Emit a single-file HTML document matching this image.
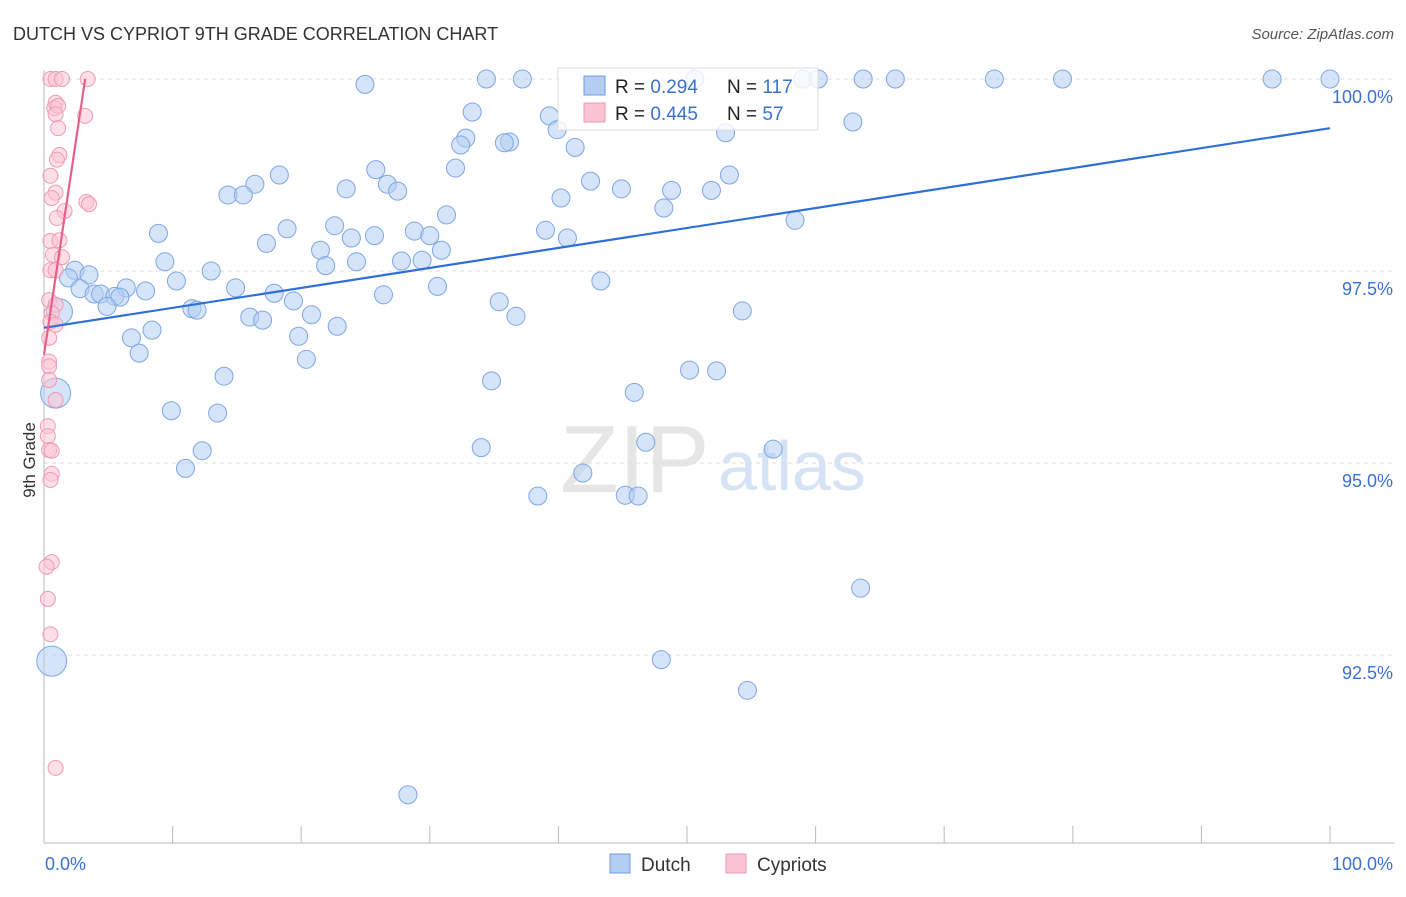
<!DOCTYPE html>
<html><head><meta charset="utf-8"><style>
body{margin:0;background:#fff;font-family:"Liberation Sans",sans-serif;}
svg text{font-family:"Liberation Sans",sans-serif;}
</style></head><body>
<svg id="c" width="1406" height="892">
<text x="13" y="40" font-size="18" fill="#333">DUTCH VS CYPRIOT 9TH GRADE CORRELATION CHART</text>
<text x="1394" y="39" font-size="15" fill="#555" font-style="italic" text-anchor="end">Source: ZipAtlas.com</text>
<text x="35" y="460" font-size="17" fill="#333" transform="rotate(-90 35 460)" text-anchor="middle">9th Grade</text>
<text x="560" y="492" font-size="96" fill="#e6e6e6" font-family="Liberation Serif">ZIP</text>
<text x="718" y="490" font-size="70" fill="#d6e3f5">atlas</text>
<g id="grid"></g><g id="pts"></g><g id="lines"></g>
<g>
<rect x="558" y="68" width="260" height="62" fill="#fff" fill-opacity="0.8" stroke="#ddd"/>
<rect x="584" y="76" width="21" height="19" fill="#b3cdf3" stroke="#6f9de0"/>
<rect x="584" y="103" width="21" height="19" fill="#fbc4d3" stroke="#ee9ab3"/>
<text x="615" y="93" font-size="19" fill="#222">R = <tspan fill="#3a72d0">0.294</tspan></text>
<text x="727" y="93" font-size="19" fill="#222">N = <tspan fill="#3a72d0">117</tspan></text>
<text x="615" y="120" font-size="19" fill="#222">R = <tspan fill="#3a72d0">0.445</tspan></text>
<text x="727" y="120" font-size="19" fill="#222">N = <tspan fill="#3a72d0"> 57</tspan></text>
</g>
<g>
<rect x="610" y="854" width="20" height="19" fill="#b3cdf3" stroke="#6f9de0"/>
<text x="641" y="871" font-size="19" fill="#333">Dutch</text>
<rect x="726" y="854" width="20" height="19" fill="#fbc4d3" stroke="#ee9ab3"/>
<text x="757" y="871" font-size="19" fill="#333">Cypriots</text>
</g>
</svg>
<script>
const dutchX=[24.96,34.4,37.2,50.6,59.0,60.2,63.7,66.2,73.9,79.2,95.5,100,33.3,39.3,39.9,62.9,32.8,32.4,36.2,35.8,41.3,53.0,32.0,25.8,18.3,16.4,26.7,27.5,23.5,14.3,15.5,42.5,44.9,48.8,51.9,53.3,40.2,48.2,31.3,58.4,8.9,18.9,22.6,28.8,39.0,17.3,23.9,25.7,30.0,40.7,21.5,30.9,9.4,21.9,24.3,27.8,29.4,13.0,2.4,3.5,1.9,10.3,43.3,14.9,2.8,7.9,6.4,3.9,4.4,5.5,5.9,4.9,17.9,26.4,30.6,35.4,19.4,11.5,11.9,16.0,17.0,20.8,36.7,54.3,8.4,6.8,19.8,22.8,7.4,20.4,14.0,34.8,50.2,52.3,45.9,9.9,13.5,34.0,46.8,56.7,12.3,11.0,41.9,38.4,45.2,46.2,63.5,48.0,54.7,28.3,0.6,0.9,1.2];
const dutchY=[99.93,100,100,100,100,100,100,100,100,100,100,100,99.57,99.52,99.34,99.44,99.23,99.14,99.18,99.17,99.11,99.30,98.84,98.82,98.75,98.63,98.63,98.54,98.57,98.49,98.49,98.67,98.57,98.55,98.55,98.75,98.45,98.32,98.23,98.16,97.99,98.05,98.09,98.02,98.03,97.86,97.93,97.96,97.96,97.93,97.77,97.77,97.62,97.57,97.62,97.63,97.64,97.50,97.51,97.45,97.41,97.37,97.37,97.28,97.27,97.24,97.28,97.20,97.20,97.17,97.16,97.04,97.21,97.19,97.30,97.10,97.11,97.01,96.99,96.90,96.86,96.93,96.91,96.98,96.73,96.63,96.65,96.78,96.43,96.35,96.13,96.07,96.21,96.20,95.92,95.68,95.65,95.20,95.27,95.18,95.16,94.93,94.87,94.57,94.58,94.57,93.37,92.44,92.04,90.68,92.42,95.91,96.97];
const dutchSize=[9,9,9,9,9,9,9,9,9,9,9,9,9,9,9,9,9,9,9,9,9,9,9,9,9,9,9,9,9,9,9,9,9,9,9,9,9,9,9,9,9,9,9,9,9,9,9,9,9,9,9,9,9,9,9,9,9,9,9,9,9,9,9,9,9,9,9,9,9,9,9,9,9,9,9,9,9,9,9,9,9,9,9,9,9,9,9,9,9,9,9,9,9,9,9,9,9,9,9,9,9,9,9,9,9,9,9,9,9,9,15,15,13];
const cypX=[0.5,0.9,1.4,3.4,0.9,0.8,1.1,0.9,3.2,1.1,1.2,1.0,0.5,0.9,0.6,3.3,3.5,1.6,1.0,0.5,1.2,0.7,1.4,0.5,0.9,0.4,0.9,0.6,0.5,0.9,0.4,0.4,0.4,0.4,0.9,0.3,0.3,0.4,0.6,0.6,0.5,0.6,0.2,0.3,0.5,0.9];
const cypY=[100,100,100,100,99.69,99.62,99.65,99.54,99.52,99.36,99.01,98.95,98.74,98.52,98.45,98.40,98.37,98.28,98.19,97.89,97.90,97.71,97.68,97.51,97.51,97.12,97.06,96.95,96.84,96.80,96.63,96.32,96.26,96.08,95.82,95.48,95.35,95.17,95.16,94.86,94.78,93.71,93.65,93.23,92.77,91.03];
const yTicks=[100,97.5,95,92.5];
const yTickLabels=["100.0%","97.5%","95.0%","92.5%"];
const xTicks=[0,10,20,30,40,50,60,70,80,90,100];
const dutchTrend=[96.76,99.36];
const cypTrend=[96.41,100,3.2];
const NS="http://www.w3.org/2000/svg";
const X=v=>44+v*12.86, Y=v=>79+(100-v)*76.8;
function mk(tag,a,parent){const e=document.createElementNS(NS,tag);for(const k in a)e.setAttribute(k,a[k]);parent.appendChild(e);return e;}
const grid=document.getElementById('grid'),pts=document.getElementById('pts'),lines=document.getElementById('lines');
yTicks.forEach((t,i)=>{
 const l=mk('line',{x1:44,x2:1394,y1:Y(t),y2:Y(t),stroke:'#ddd','stroke-dasharray':'4,4'},grid);
 
 
 const tx=mk('text',{x:1393,y:Y(t)+24,'font-size':18,fill:'#3a72d0','text-anchor':'end'},grid);
 tx.textContent=yTickLabels[i];
 
 
});
const ax=mk('line',{x1:44,x2:1394,y1:843,y2:843,stroke:'#bbb'},grid);


const ay=mk('line',{x1:44,x2:44,y1:70,y2:843,stroke:'#bbb'},grid);


xTicks.forEach(t=>{const l=mk('line',{x1:X(t),x2:X(t),y1:826,y2:843,stroke:'#bbb'},grid);
 
 });
[[0,"0.0%","start",45],[100,"100.0%","end",1393]].forEach(d=>{const t=mk('text',{x:d[3],y:870,'font-size':18,fill:'#3a72d0','text-anchor':d[2]},grid);t.textContent=d[1];
 
 });
dutchX.forEach((x,i)=>{const c=mk('circle',{cx:X(x),cy:Y(dutchY[i]),r:dutchSize[i],fill:'#b3cdf3','fill-opacity':0.55,stroke:'#7ea6e6','stroke-width':1},pts);
 
 });
cypX.forEach((x,i)=>{const c=mk('circle',{cx:X(x),cy:Y(cypY[i]),r:7.5,fill:'#fbc4d3','fill-opacity':0.55,stroke:'#f09ab4','stroke-width':1},pts);
 
 });
const l1=mk('line',{x1:X(0),y1:Y(dutchTrend[0]),x2:X(100),y2:Y(dutchTrend[1]),stroke:'#2f6fd6','stroke-width':2.2},lines);


const l2=mk('line',{x1:X(0),y1:Y(cypTrend[0]),x2:X(cypTrend[2]),y2:Y(cypTrend[1]),stroke:'#e8608a','stroke-width':2.2},lines);


</script>
</body></html>
